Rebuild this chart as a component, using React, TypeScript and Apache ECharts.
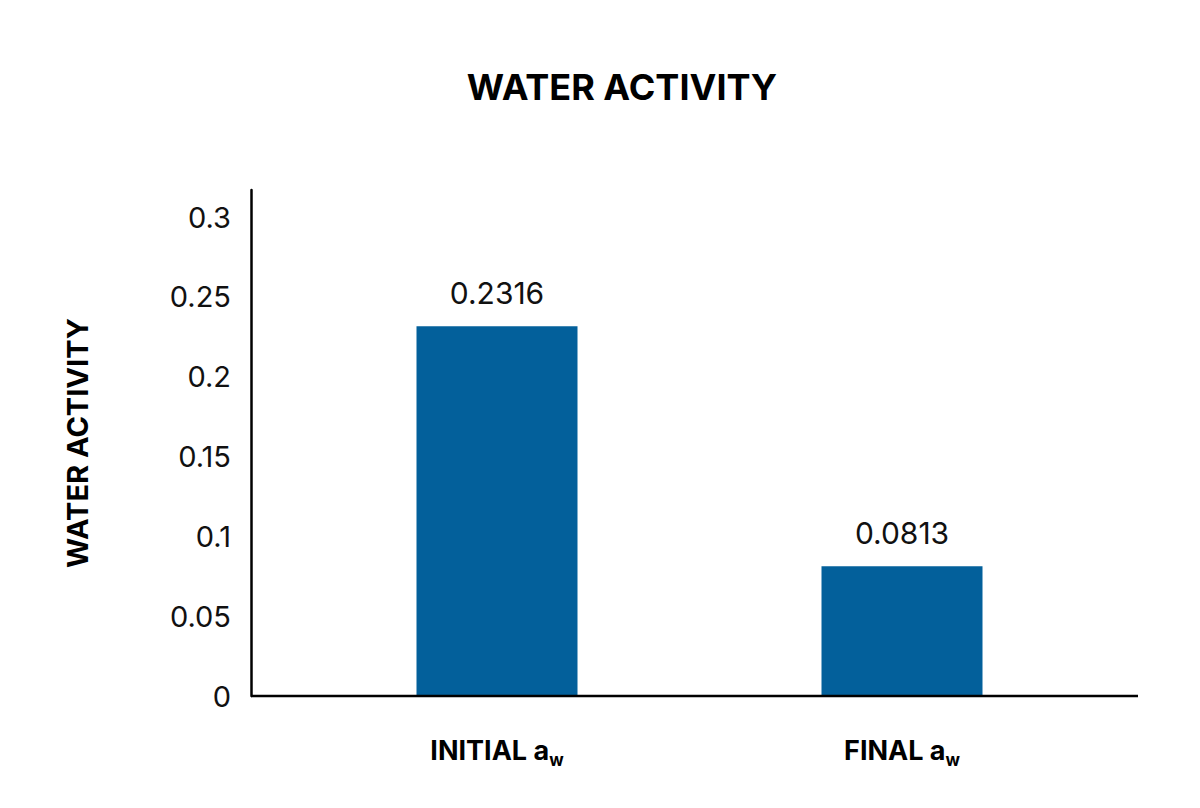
import React, { useEffect, useRef } from 'react';
import * as echarts from 'echarts';

const categories = ['INITIAL', 'FINAL'];
const values = [0.2316, 0.0813];
const yMin = 0;
const yMax = 0.317;
const yInterval = 0.05;
const titleText = 'WATER ACTIVITY';
const yAxisName = 'WATER ACTIVITY';

const FONT = 'Inter, "Liberation Sans", Arial, sans-serif';

export default function App() {
  const ref = useRef<HTMLDivElement>(null);
  useEffect(() => {
    document.body.style.margin = '0';
    document.body.style.overflow = 'hidden';
    const chart = echarts.init(ref.current!, null, { renderer: 'svg' });
    const gridLeft = 294.5;
    const gridRight = 95.5;
    const gridTop = 190;
    const gridBottom = 112;
    chart.setOption({
      animation: false,
      backgroundColor: '#ffffff',
      textStyle: { fontFamily: FONT },
      title: {
        text: titleText,
        left: 617,
        textAlign: 'center',
        top: 64,
        textStyle: { fontSize: 36, fontWeight: 'bold', color: '#000', fontFamily: FONT },
      },
      grid: { left: gridLeft, right: gridRight, top: gridTop, bottom: gridBottom, containLabel: false },
      xAxis: {
        type: 'category',
        data: categories,
        axisLine: { show: false },
        axisTick: { show: false },
        splitLine: { show: false },
        axisLabel: {
          margin: 36,
          formatter: (v: string) => `{b|${v} a}{s|w}`,
          rich: {
            b: { fontSize: 27, fontWeight: 'bold', color: '#000', fontFamily: FONT, verticalAlign: 'bottom', lineHeight: 32 },
            s: { fontSize: 17, fontWeight: 'bold', color: '#000', fontFamily: FONT, verticalAlign: 'bottom', lineHeight: 32, padding: [0, 0, -4, 0] },
          },
        },
      },
      yAxis: {
        type: 'value',
        min: yMin,
        max: yMax,
        interval: yInterval,
        offset: 43.5,
        axisLine: { show: true, lineStyle: { color: '#000', width: 2.5 } },
        axisTick: { show: false },
        splitLine: { show: false },
        axisLabel: { showMaxLabel: false, fontSize: 29, color: '#111', margin: 20, fontFamily: FONT },
        name: yAxisName,
        nameLocation: 'middle',
        nameGap: 159,
        nameTextStyle: { fontSize: 29, fontWeight: 'bold', color: '#000', fontFamily: FONT },
      },
      series: [
        {
          type: 'bar',
          data: values,
          barWidth: 161,
          itemStyle: { color: '#03609b' },
          label: {
            show: true,
            position: 'top',
            distance: 18,
            fontSize: 30,
            color: '#111',
            fontFamily: FONT,
          },
        },
      ],
      graphic: [
        {
          type: 'line',
          shape: { x1: 251, y1: 808 - gridBottom, x2: 1138, y2: 808 - gridBottom },
          style: { stroke: '#000', lineWidth: 2.5 },
          z: 10,
        },
      ],
    });
    return () => chart.dispose();
  }, []);
  return <div ref={ref} style={{ width: 1200, height: 808 }} />;
}
